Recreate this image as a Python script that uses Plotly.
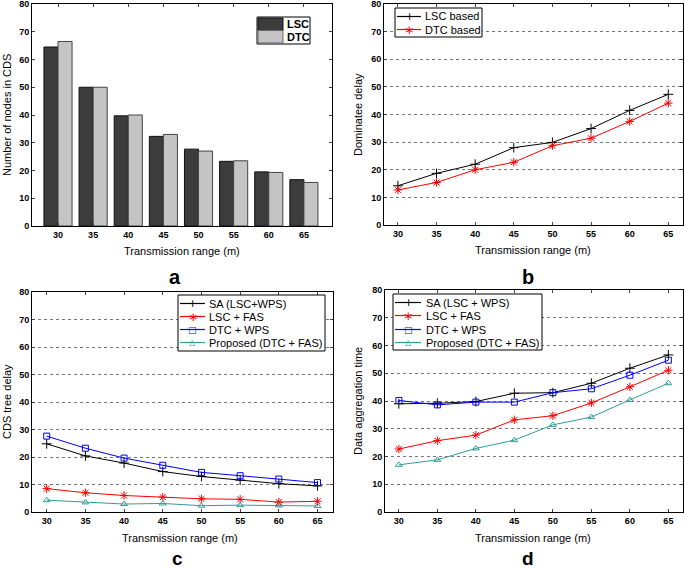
import plotly.graph_objects as go

ranges = [30, 35, 40, 45, 50, 55, 60, 65]
y_ticks = [0, 10, 20, 30, 40, 50, 60, 70, 80]

# panel a
a_lsc = [64.5, 50.0, 39.7, 32.3, 27.7, 23.3, 19.5, 16.7]
a_dtc = [66.5, 50.0, 40.0, 33.0, 27.0, 23.5, 19.3, 15.7]
# panel b
b_lsc = [14.2, 18.7, 22.0, 28.0, 29.9, 34.9, 41.5, 47.3]
b_dtc = [12.7, 15.4, 20.0, 22.7, 28.7, 31.4, 37.5, 44.1]
# panel c
c_sa = [24.8, 20.4, 17.8, 14.7, 12.9, 11.6, 10.3, 9.5]
c_lsc_fas = [8.5, 7.0, 6.0, 5.4, 4.8, 4.6, 3.6, 3.9]
c_dtc_wps = [27.6, 23.2, 19.6, 17.0, 14.4, 13.2, 12.0, 10.7]
c_prop = [4.3, 3.5, 2.9, 3.1, 2.3, 2.5, 2.4, 2.2]
# panel d
d_sa = [39.0, 39.2, 39.8, 42.8, 43.0, 46.4, 51.8, 56.6]
d_lsc_fas = [22.7, 25.7, 27.7, 33.2, 34.7, 39.3, 45.1, 51.1]
d_dtc_wps = [40.2, 38.6, 39.6, 39.6, 43.0, 44.4, 49.3, 54.7]
d_prop = [17.0, 18.8, 22.9, 25.9, 31.4, 34.2, 40.4, 46.4]

W, H = 685, 569
FONT = "Arial, Liberation Sans, sans-serif"
TEAL = "#2f9e98"
DARK = "#3c3c3c"
LIGHT = "#c4c4c4"

# colour, plotly symbol, marker size, legend glyph, glyph size
STY = {
    "black": ("#000000", "cross-thin", 7, "+", 11),
    "red": ("#ff0000", "asterisk-open", 7, "\u2217", 12),
    "blue": ("#0000ff", "square-open", 6, "\u25a1", 9),
    "teal": (TEAL, "triangle-up-open", 6, "\u25b3", 8),
}

def px_x(p):
    return p / W

def px_y(p):
    return 1 - p / H

fig = go.Figure()

fig.add_trace(go.Bar(x=ranges, y=a_lsc, name="LSC", marker=dict(color=DARK, line=dict(color="#111", width=1)),
                     xaxis="x", yaxis="y", offsetgroup="1"))
fig.add_trace(go.Bar(x=ranges, y=a_dtc, name="DTC", marker=dict(color=LIGHT, line=dict(color="#444", width=1)),
                     xaxis="x", yaxis="y", offsetgroup="2"))

def line(x, y, name, sty, xa, ya):
    color, symbol, size = STY[sty][:3]
    return go.Scatter(x=x, y=y, name=name, mode="lines+markers",
                      line=dict(color=color, width=1),
                      marker=dict(symbol=symbol, size=size, color=color, line=dict(color=color, width=1)),
                      xaxis=xa, yaxis=ya)

panel_b = [("LSC based", b_lsc, "black"), ("DTC based", b_dtc, "red")]
panel_c = [("SA (LSC+WPS)", c_sa, "black"), ("LSC + FAS", c_lsc_fas, "red"),
           ("DTC + WPS", c_dtc_wps, "blue"), ("Proposed (DTC + FAS)", c_prop, "teal")]
panel_d = [("SA (LSC + WPS)", d_sa, "black"), ("LSC + FAS", d_lsc_fas, "red"),
           ("DTC + WPS", d_dtc_wps, "blue"), ("Proposed (DTC + FAS)", d_prop, "teal")]

for name, vals, sty in panel_b:
    fig.add_trace(line(ranges, vals, name, sty, "x2", "y2"))
for name, vals, sty in panel_c:
    fig.add_trace(line(ranges, vals, name, sty, "x3", "y3"))
for name, vals, sty in panel_d:
    fig.add_trace(line(ranges, vals, name, sty, "x4", "y4"))

tickfont = dict(family=FONT, size=9, color="black", weight="bold")

def xaxis(dom, rng, anchor):
    return dict(domain=dom, range=rng, tickvals=ranges, ticktext=[str(r) for r in ranges],
                tickfont=tickfont, ticks="inside", ticklen=3, showline=True, linecolor="black",
                linewidth=1, mirror="ticks", showgrid=False, zeroline=False, anchor=anchor,
                fixedrange=True, automargin=False, ticklabeloverflow="allow")

def yaxis(dom, anchor, grid):
    return dict(domain=dom, range=[0, 80], tickvals=y_ticks, tickfont=tickfont, ticks="inside", ticklen=3,
                showline=True, linecolor="black", linewidth=1, mirror="ticks", showgrid=grid,
                gridcolor="#777", griddash="dot", gridwidth=1, zeroline=False, anchor=anchor,
                fixedrange=True, automargin=False, ticklabeloverflow="allow")

xa_dom = [px_x(32), px_x(332)]
xb_dom = [px_x(384), px_x(683)]
xc_dom = [px_x(32), px_x(333)]
xd_dom = [px_x(385), px_x(683)]
ya_dom = [px_y(226), px_y(4)]
yb_dom = [px_y(225), px_y(4)]
yc_dom = [px_y(512), px_y(292)]
yd_dom = [px_y(512), px_y(290)]

shapes = []
ann = []

def text(x, y, s, size=11, angle=0, bold=False, xanchor="center", color="black", family=FONT, pad=1):
    ann.append(dict(x=px_x(x), y=px_y(y), xref="paper", yref="paper", text=s, showarrow=False,
                    textangle=angle, xanchor=xanchor, yanchor="middle", borderpad=pad,
                    font=dict(family=family, size=size, color=color, weight="bold" if bold else "normal")))

def box(x0, y0, x1, y1, fill="white", lc="black"):
    shapes.append(dict(type="rect", xref="paper", yref="paper", x0=px_x(x0), x1=px_x(x1),
                       y0=px_y(y1), y1=px_y(y0), line=dict(color=lc, width=1), fillcolor=fill, layer="above"))

# legend for panel a (filled swatches)
box(257, 17, 310, 44)
box(258, 18, 283, 30.5, fill=DARK, lc="#111")
box(258, 30.5, 283, 43, fill=LIGHT, lc="#666")
text(285, 24.5, "LSC", bold=True, xanchor="left")
text(285, 37, "DTC", bold=True, xanchor="left")

# line legends for panels b, c, d
def line_legend(x0, y0, x1, y1, rows, entries, lx0, lx1, tx):
    box(x0, y0, x1, y1)
    for (name, _, sty), ry in zip(entries, rows):
        color, _, _, glyph, gsize = STY[sty]
        shapes.append(dict(type="line", xref="paper", yref="paper", x0=px_x(lx0), x1=px_x(lx1),
                           y0=px_y(ry), y1=px_y(ry), line=dict(color=color, width=1.2), layer="above"))
        text((lx0 + lx1) / 2, ry, glyph, size=gsize, color=color, family="DejaVu Sans", pad=0)
        text(tx, ry, name, xanchor="left")

line_legend(395, 8, 482, 37, [16.5, 29.5], panel_b, 397, 421, 423)
line_legend(178, 295, 325, 351, [303.5, 316.5, 329.5, 342.5], panel_c, 180, 205, 207)
line_legend(393, 294, 542, 350, [302.5, 315.5, 329.5, 342.5], panel_d, 395, 421, 424)

fig.update_layout(
    width=W, height=H, margin=dict(l=0, r=0, t=0, b=0, autoexpand=False),
    paper_bgcolor="white", plot_bgcolor="white",
    barmode="group", bargap=0.2, bargroupgap=0,
    font=dict(family=FONT, color="black"),
    showlegend=False,
    xaxis=xaxis(xa_dom, [26.3, 69], "y"),
    yaxis=yaxis(ya_dom, "x", False),
    xaxis2=xaxis(xb_dom, [28.2, 66.9], "y2"),
    yaxis2=yaxis(yb_dom, "x2", True),
    xaxis3=xaxis(xc_dom, [28.1, 67.0], "y3"),
    yaxis3=yaxis(yc_dom, "x3", True),
    xaxis4=xaxis(xd_dom, [28.2, 66.9], "y4"),
    yaxis4=yaxis(yd_dom, "x4", True),
    shapes=shapes,
)

text(182, 251, "Transmission range (m)")
text(533, 250, "Transmission range (m)")
text(180, 538, "Transmission range (m)")
text(533, 538, "Transmission range (m)")
text(7, 115, "Number of nodes in CDS", angle=-90)
text(358, 115, "Dominatee delay", angle=-90)
text(7, 402, "CDS tree delay", angle=-90)
text(358, 401, "Data aggregation time", angle=-90)
text(175, 277, "a", size=20, bold=True)
text(528, 277, "b", size=20, bold=True)
text(177, 558, "c", size=19, bold=True)
text(528, 558, "d", size=19, bold=True)
fig.update_layout(annotations=ann)

fig.write_html("out.html", config={"displayModeBar": False, "staticPlot": True},
               post_script="document.body.style.margin='0';document.body.style.overflow='hidden';")
